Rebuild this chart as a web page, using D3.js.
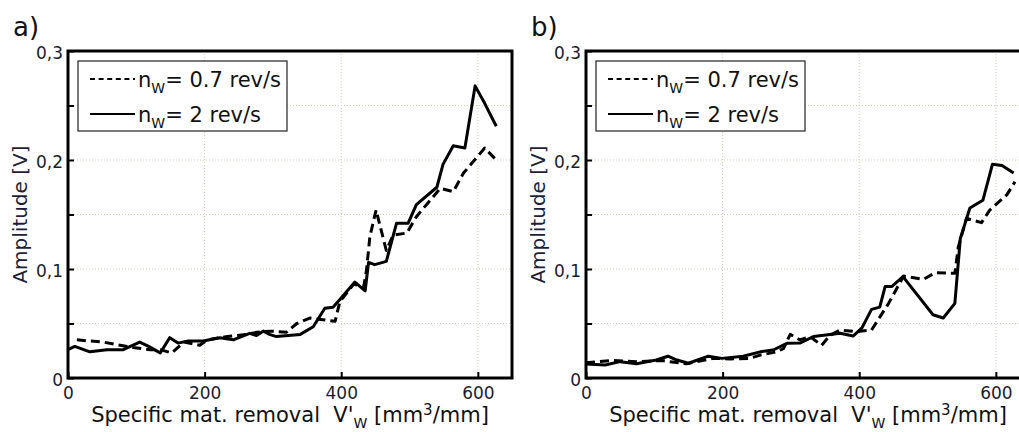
<!DOCTYPE html>
<html>
<head>
<meta charset="utf-8">
<script src="https://cdn.jsdelivr.net/npm/d3@7"></script>
<style>
  html, body { margin: 0; padding: 0; background: #fff; overflow: hidden; }
  svg { display: block; font-family: "DejaVu Sans", Verdana, sans-serif; }
</style>
</head>
<body>
<div id="chart"></div>
<script>
// series values, [V'w in mm3/mm, amplitude in V]
var aSlow = [[13,0.035],[30,0.034],[51,0.033],[68,0.031],[95,0.028],[120,0.026],[135,0.026],[152,0.023],[170,0.033],[193,0.030],[204,0.035],[233,0.038],[262,0.040],[277,0.042],[296,0.043],[320,0.042],[335,0.050],[354,0.055],[391,0.052],[398,0.070],[418,0.086],[433,0.084],[437,0.099],[442,0.130],[451,0.154],[466,0.117],[476,0.131],[496,0.133],[510,0.148],[545,0.174],[564,0.171],[579,0.188],[610,0.211],[627,0.200]];
var aFast = [[0,0.026],[10,0.029],[32,0.024],[57,0.026],[81,0.026],[105,0.033],[118,0.029],[135,0.023],[149,0.037],[161,0.032],[176,0.034],[198,0.034],[222,0.037],[242,0.035],[266,0.041],[276,0.039],[286,0.043],[295,0.040],[305,0.038],[340,0.040],[359,0.047],[376,0.064],[388,0.065],[398,0.072],[420,0.088],[435,0.080],[440,0.106],[449,0.104],[466,0.107],[481,0.142],[498,0.142],[510,0.159],[540,0.175],[549,0.196],[564,0.213],[581,0.211],[596,0.268],[610,0.252],[627,0.231]];
var bSlow = [[0,0.014],[39,0.016],[73,0.015],[112,0.016],[122,0.015],[147,0.013],[187,0.018],[211,0.0175],[240,0.018],[255,0.021],[279,0.024],[289,0.027],[299,0.040],[313,0.035],[328,0.038],[345,0.030],[357,0.039],[372,0.044],[396,0.0425],[418,0.044],[443,0.0685],[465,0.0935],[494,0.0905],[511,0.0965],[540,0.096],[545,0.120],[557,0.1465],[579,0.1425],[591,0.154],[616,0.168],[628,0.180]];
var bFast = [[0,0.0128],[28,0.012],[50,0.015],[74,0.013],[103,0.0165],[120,0.020],[133,0.0165],[150,0.0135],[179,0.020],[199,0.018],[230,0.020],[255,0.024],[274,0.0257],[294,0.0318],[313,0.032],[333,0.038],[372,0.041],[391,0.0385],[404,0.046],[418,0.063],[430,0.065],[438,0.084],[448,0.084],[464,0.093],[508,0.058],[523,0.055],[540,0.0685],[548,0.128],[562,0.156],[581,0.163],[595,0.196],[609,0.195],[626,0.188]];

var panelLabels = ["a)", "b)"];
var legendSpeeds = ["0.7 rev/s", "2 rev/s"];
var xTicks = [0, 200, 400, 600];
var yTicks = [0, 0.05, 0.1, 0.15, 0.2, 0.25, 0.3];
var yLabelTicks = [0, 0.1, 0.2, 0.3];

var W = 1019, H = 432;
var plotW = 444, plotH = 327, plotTop = 51;
var panelLeft = [68, 586];

var svg = d3.select("#chart").append("svg")
    .attr("width", W)
    .attr("height", H);

var x = d3.scaleLinear().domain([0, 650]).range([0, plotW]);
var y = d3.scaleLinear().domain([0, 0.3]).range([plotH, 0]);

// comma decimal like the original
var fmt = d3.formatLocale({decimal: ",", thousands: ".", grouping: [3], currency: ["", ""]}).format(".1f");

var line = d3.line()
    .x(function(d) { return x(d[0]); })
    .y(function(d) { return y(d[1]); });

var panels = [
    {label: panelLabels[0], slow: aSlow, fast: aFast},
    {label: panelLabels[1], slow: bSlow, fast: bFast}
];

panels.forEach(function(p, i) {
    var g = svg.append("g")
        .attr("transform", "translate(" + panelLeft[i] + "," + plotTop + ")");

    // panel letter
    g.append("text")
        .attr("x", -55)
        .attr("y", -15)
        .attr("font-size", 26)
        .attr("fill", "#111")
        .text(p.label);

    // dotted grid
    g.append("g").selectAll("line")
        .data(xTicks.slice(1))
        .enter().append("line")
        .attr("x1", function(d) { return x(d); })
        .attr("x2", function(d) { return x(d); })
        .attr("y1", 0).attr("y2", plotH)
        .attr("stroke", "#d6cfb6")
        .attr("stroke-width", 1)
        .attr("stroke-dasharray", "1,2");
    g.append("g").selectAll("line")
        .data(yTicks.slice(1, -1))
        .enter().append("line")
        .attr("x1", 0).attr("x2", plotW)
        .attr("y1", function(d) { return y(d); })
        .attr("y2", function(d) { return y(d); })
        .attr("stroke", "#d6cfb6")
        .attr("stroke-width", 1)
        .attr("stroke-dasharray", "1,2");

    // axes: inward ticks
    var xAxis = g.append("g")
        .attr("transform", "translate(0," + plotH + ")")
        .call(d3.axisBottom(x).tickValues(xTicks).tickSize(-6).tickFormat(d3.format("d")));
    xAxis.select(".domain").remove();
    xAxis.selectAll(".tick line").attr("stroke", "#000").attr("stroke-width", 2);
    xAxis.selectAll(".tick text")
        .attr("y", 9)
        .attr("dy", "0.71em")
        .attr("font-size", 17)
        .attr("font-family", "DejaVu Sans, Verdana, sans-serif")
        .attr("fill", "#1c1c2c");

    var yAxis = g.append("g")
        .call(d3.axisLeft(y).tickValues(yTicks).tickSize(-6).tickFormat(function(d) {
            if (yLabelTicks.indexOf(d) < 0) return "";
            return d === 0 ? "0" : fmt(d);
        }));
    yAxis.select(".domain").remove();
    yAxis.selectAll(".tick line").attr("stroke", "#000").attr("stroke-width", 2);
    yAxis.selectAll(".tick text")
        .attr("x", -5)
        .attr("dy", "0.42em")
        .attr("font-size", 17)
        .attr("font-family", "DejaVu Sans, Verdana, sans-serif")
        .attr("fill", "#1c1c2c");

    // data lines
    g.append("path")
        .datum(p.slow)
        .attr("d", line)
        .attr("fill", "none")
        .attr("stroke", "#000")
        .attr("stroke-width", 3)
        .attr("stroke-linejoin", "round")
        .attr("stroke-dasharray", "9,5");
    g.append("path")
        .datum(p.fast)
        .attr("d", line)
        .attr("fill", "none")
        .attr("stroke", "#000")
        .attr("stroke-width", 3)
        .attr("stroke-linejoin", "round");

    // frame
    g.append("rect")
        .attr("x", 0).attr("y", 0)
        .attr("width", plotW).attr("height", plotH)
        .attr("fill", "none")
        .attr("stroke", "#000")
        .attr("stroke-width", 3);

    // legend
    var lg = g.append("g").attr("transform", "translate(10,10)");
    lg.append("rect")
        .attr("width", 209).attr("height", 70)
        .attr("fill", "#fff")
        .attr("stroke", "#222")
        .attr("stroke-width", 1.2);
    legendSpeeds.forEach(function(s, k) {
        var ly = 18 + k * 35;
        lg.append("line")
            .attr("x1", 12).attr("x2", 57)
            .attr("y1", ly).attr("y2", ly)
            .attr("stroke", "#000")
            .attr("stroke-width", 2)
            .attr("stroke-dasharray", k === 0 ? "5,3.6" : null);
        var t = lg.append("text")
            .attr("x", 60)
            .attr("y", ly + 8)
            .attr("font-size", 21)
            .attr("fill", "#111");
        t.append("tspan").text("n");
        t.append("tspan").attr("dy", 6).attr("font-size", 14).text("W");
        t.append("tspan").attr("dy", -6).text("= " + s);
    });

    // axis titles
    var xt = g.append("text")
        .attr("x", plotW / 2)
        .attr("y", plotH + 44)
        .attr("text-anchor", "middle")
        .attr("font-size", 21)
        .attr("fill", "#111");
    xt.append("tspan").text("Specific mat. removal\u00a0\u00a0V'");
    xt.append("tspan").attr("dy", 6).attr("font-size", 14).text("W");
    xt.append("tspan").attr("dy", -6).text(" [mm");
    xt.append("tspan").attr("dy", -7).attr("font-size", 15).text("3");
    xt.append("tspan").attr("dy", 7).text("/mm]");

    g.append("text")
        .attr("transform", "translate(-41," + (plotH / 2) + ") rotate(-90)")
        .attr("text-anchor", "middle")
        .attr("font-size", 20)
        .attr("fill", "#1b1f3a")
        .text("Amplitude [V]");
});
</script>
</body>
</html>
